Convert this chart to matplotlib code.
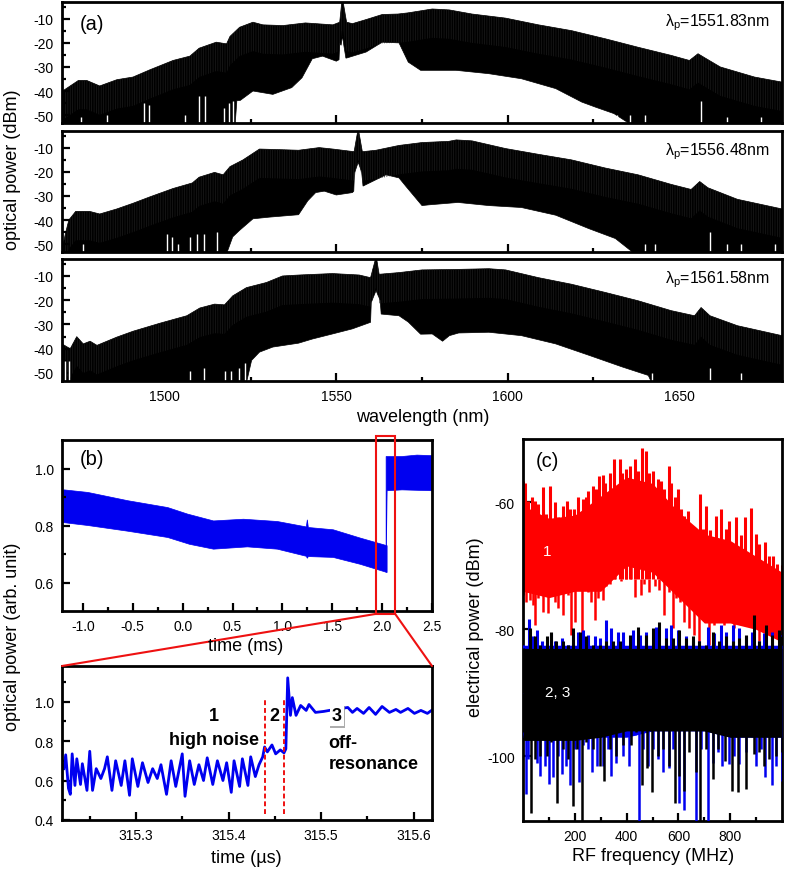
import matplotlib
matplotlib.use('Agg')
import matplotlib.pyplot as plt
import numpy as np
from matplotlib.patches import Rectangle, ConnectionPatch
from matplotlib.patheffects import withSimplePatchShadow
from matplotlib.ticker import MultipleLocator, FixedLocator

W, H = 787, 870
plt.rcParams['font.family'] = ['Liberation Sans', 'DejaVu Sans']
plt.rcParams['mathtext.fontset'] = 'custom'
plt.rcParams['mathtext.rm'] = 'Liberation Sans'
plt.rcParams['mathtext.it'] = 'Liberation Sans'
plt.rcParams['axes.unicode_minus'] = False
plt.rcParams['hatch.linewidth'] = 0.5

# panel (a): envelope of the comb, top trace
a1_up_x = [1470, 1470.5, 1474.8, 1477.2, 1481, 1486, 1490.7, 1495.6, 1502.4, 1507.3, 1510, 1515, 1518, 1519, 1521.8,
           1525.7, 1528.6, 1534.4, 1541, 1549, 1551, 1551.6, 1551.8, 1552, 1553, 1554.7, 1558.7, 1563.4, 1568, 1571,
           1578, 1583, 1589.6, 1599.4, 1609, 1618.6, 1628.5, 1638, 1647.7, 1653, 1655.5, 1657.6, 1662, 1672, 1680]
a1_up_y = [-42, -39.7, -35.6, -35.6, -37.9, -35.3, -34.2, -31.2, -27.3, -25.5, -22.2, -19.7, -20.4, -17.3, -13.5,
           -11.4, -12.5, -12.8, -11.7, -12.5, -11.4, -3, -3, -3, -11.4, -12, -10.3, -8.2, -8, -7.5,
           -5.9, -6.3, -8, -9.7, -12.5, -14.9, -18.3, -21.8, -25.2, -27.3, -24.5, -26.3, -30, -34.2, -36.3]
a1_lo_x = [1470, 1520.5, 1521, 1522, 1525.7, 1531.5, 1537, 1540, 1543, 1546, 1550, 1550.8, 1551, 1551.4, 1551.8,
           1552.2, 1552.8, 1553, 1558.7, 1563.4, 1568.3, 1571, 1574.6, 1584.9, 1594.5, 1604, 1614, 1621.6, 1625.6,
           1631, 1636, 1680]
a1_lo_y = [-54, -54, -44, -43.9, -40, -41.4, -38.6, -34.5, -26.6, -25.5, -27.6, -27, -20, -21, -17,
           -21, -26.3, -26.3, -23.8, -19.7, -20, -28, -31.4, -31.4, -32.8, -34.9, -39, -44.6, -46.7,
           -49.4, -54, -54]
a1_slit_x = [1475.6, 1483.2, 1494, 1495.4, 1506, 1509.9, 1511.7, 1517.3, 1518.6, 1520, 1632, 1635.7, 1640, 1656.4, 1664, 1673.8]
a1_slit_y = [-51, -50, -45, -46, -50, -42, -42, -47, -45, -44, -50, -50, -50, -44, -51, -51]

# panel (a): middle trace
a2_up_x = [1470, 1471, 1472, 1474, 1478, 1481, 1486, 1490.8, 1495.6, 1502.4, 1508, 1510, 1514.5, 1517, 1519, 1522.8,
           1527.6, 1532.4, 1539, 1545, 1549, 1555.2, 1556.2, 1556.4, 1556.6, 1557.6, 1561.6, 1568.3, 1575, 1582.8,
           1585, 1589.6, 1599.4, 1609, 1618.6, 1628.5, 1638, 1647.7, 1653.5, 1656, 1658.4, 1667, 1680]
a2_up_y = [-52.4, -45.6, -40, -36.4, -36.4, -37.5, -35.4, -33, -30.4, -26.9, -24.6, -22.2, -20.2, -21.2, -17.8, -15,
           -10.5, -10.7, -11, -9.9, -10.5, -11.6, -3.5, -3, -3.5, -11.6, -11, -9, -7.8, -7.3,
           -6.7, -7.1, -10.3, -12.7, -15, -18.4, -21.2, -25.2, -27.3, -24, -26.6, -31.4, -35.4]
a2_lo_x = [1470, 1518, 1519.8, 1521.8, 1525.7, 1530.5, 1539, 1541.7, 1544, 1546.5, 1550, 1554.7, 1555.1, 1555.3, 1556.4,
           1557.4, 1557.8, 1564.5, 1568.3, 1570.3, 1575, 1577, 1585.5, 1594.5, 1604, 1614, 1623.7, 1631.4, 1637, 1680]
a2_lo_y = [-54, -54, -47, -44.3, -39.5, -38.8, -37.8, -32, -28.6, -28, -29.6, -28.6, -28, -20.5, -16,
           -20, -25.9, -21.2, -22.5, -26, -34, -33.7, -32.7, -34, -34.8, -38, -43.6, -47.7, -54, -54]
a2_slit_x = [1476.2, 1500.5, 1502.1, 1503.8, 1507.2, 1509.3, 1511.5, 1515.1, 1640, 1643, 1659, 1664, 1668, 1678]
a2_slit_y = [-50, -46, -47, -50, -47, -46, -46, -45, -50, -50, -45, -50, -50, -50]

# panel (a): bottom trace
a3_up_x = [1470, 1472.4, 1474.3, 1476.2, 1478.2, 1480.2, 1486, 1490.7, 1498.5, 1506.4, 1510.2, 1514.5, 1517.4, 1519.8,
           1523.8, 1529.6, 1534.3, 1539.2, 1548.9, 1556.7, 1560, 1561.4, 1561.6, 1561.8, 1562.5, 1568.3, 1575, 1585,
           1594.5, 1599.4, 1609, 1618.6, 1628.5, 1638, 1647.7, 1654.5, 1656.4, 1659, 1667, 1680]
a3_up_y = [-38, -40, -35, -38, -36.9, -38.6, -35.2, -32.8, -29.5, -26.4, -23.2, -21.6, -21.9, -18.2,
           -14.8, -12.7, -10, -9.6, -9, -9.6, -10.7, -3.2, -3, -3.2, -9.3, -8.6, -7.5, -7.3,
           -7, -7.5, -10.7, -13.4, -16.8, -20.2, -24.3, -26.4, -23, -26.4, -30.5, -34.6]
a3_lo_x = [1470, 1523.8, 1525.3, 1527.6, 1531.5, 1539, 1543, 1548.9, 1554.7, 1560, 1560.2, 1561.6, 1562.8, 1563.1, 1568.3,
           1571, 1574.6, 1578, 1581, 1583, 1585.7, 1594.5, 1604, 1614, 1623.7, 1633.4, 1641, 1642, 1680]
a3_lo_y = [-54, -54, -44.8, -41.4, -39.3, -37.7, -36, -33.9, -31.8, -29.1, -20.9, -16, -20, -25.7, -26.4,
           -29, -34, -33.9, -36.9, -34.6, -33.5, -33.2, -34.6, -38, -42.7, -47.5, -51, -54, -54]
a3_slit_x = [1471, 1472, 1507.2, 1511.5, 1517.4, 1519.4, 1521.6, 1523.5, 1642, 1659, 1668]
a3_slit_y = [-45, -45, -49, -48, -49, -49, -48, -46, -50, -48, -50]

pump_labels = ['1551.83', '1556.48', '1561.58']

# panel (b): slow trace before and after the step
b_up_x = [-1.21, -1.19, -0.95, -0.55, -0.15, 0.05, 0.31, 0.61, 0.95, 1.24, 1.25, 1.26, 1.51, 1.78, 2.05]
b_up_y = [0.92, 0.925, 0.916, 0.887, 0.863, 0.84, 0.816, 0.822, 0.814, 0.795, 0.82, 0.793, 0.785, 0.756, 0.729]
b_lo_x = [-1.21, -1.19, -0.95, -0.55, -0.15, 0.07, 0.31, 0.65, 0.95, 1.24, 1.25, 1.26, 1.51, 1.78, 2.05]
b_lo_y = [0.81, 0.81, 0.8, 0.78, 0.758, 0.734, 0.717, 0.725, 0.717, 0.692, 0.685, 0.691, 0.688, 0.664, 0.635]
b2_up_x = [2.04, 2.2, 2.35, 2.5]
b2_up_y = [1.042, 1.042, 1.047, 1.045]
b2_lo_x = [2.04, 2.05, 2.2, 2.5]
b2_lo_y = [0.635, 0.922, 0.925, 0.922]

# zoomed time trace
zoom_t = [315.222, 315.224, 315.227, 315.229, 315.231, 315.234, 315.236, 315.240, 315.242, 315.247, 315.250, 315.253,
          315.257, 315.262, 315.266, 315.269, 315.274, 315.278, 315.284, 315.288, 315.293, 315.296, 315.302, 315.307,
          315.313, 315.318, 315.323, 315.327, 315.333, 315.338, 315.343, 315.350, 315.353, 315.358, 315.363, 315.368,
          315.373, 315.377, 315.383, 315.388, 315.394, 315.398, 315.403, 315.406, 315.412, 315.415, 315.421, 315.424,
          315.429, 315.433, 315.437, 315.439, 315.442, 315.447, 315.451, 315.456, 315.460, 315.462, 315.464, 315.467,
          315.469, 315.473, 315.478, 315.484, 315.487, 315.494, 315.503, 315.515, 315.529, 315.534, 315.539, 315.546,
          315.552, 315.559, 315.566, 315.574, 315.581, 315.586, 315.594, 315.601, 315.608, 315.615, 315.621]
zoom_v = [0.66, 0.73, 0.56, 0.53, 0.735, 0.575, 0.71, 0.58, 0.685, 0.55, 0.748, 0.55,
          0.66, 0.61, 0.66, 0.72, 0.55, 0.70, 0.575, 0.70, 0.525, 0.71, 0.57, 0.69,
          0.59, 0.66, 0.61, 0.68, 0.53, 0.70, 0.57, 0.735, 0.52, 0.70, 0.58, 0.68,
          0.60, 0.715, 0.58, 0.70, 0.60, 0.69, 0.54, 0.70, 0.57, 0.71, 0.575, 0.72,
          0.62, 0.68, 0.72, 0.77, 0.745, 0.78, 0.735, 0.755, 0.74, 0.76, 1.12, 0.93,
          1.02, 0.93, 0.98, 0.955, 0.985, 0.945, 0.95, 0.96, 0.97, 0.945, 0.965, 0.94,
          0.97, 0.935, 0.975, 0.945, 0.96, 0.945, 0.965, 0.94, 0.955, 0.94, 0.96]
zoom_marks = [315.439, 315.460]

# panel (c): red, blue and black RF spectra, tips of the spikes
red_up_f = [1, 8, 21, 33, 46, 59, 76, 88, 106, 123, 136, 155, 168, 183, 197, 213, 232, 245, 251, 270, 283, 294, 309, 318,
            335, 350, 373, 383, 399, 412, 431, 444, 459, 473, 488, 501, 520, 533, 546, 563, 572, 585, 597, 610, 623, 636,
            655, 668, 683, 696, 706, 722, 745, 764, 783, 796, 822, 841, 856, 879, 899, 912, 935, 950, 967, 982, 999]
red_up_p = [-56.6, -56.9, -59.7, -59.2, -59.7, -60.3, -57.6, -61.8, -57.4, -60, -62.3, -60.5, -59.7, -61, -61, -59.2,
            -59.5, -59.2, -58.2, -57.4, -57.9, -55.8, -55.6, -56.9, -55.3, -53.2, -53.2, -55.3, -54.8, -54.3, -53.2, -55,
            -51.4, -51.9, -55.3, -55, -56.3, -56.6, -57.9, -54.3, -56.9, -59.2, -57.9, -61, -62.2, -61.3, -64.2, -64.2,
            -58.7, -64.2, -60.5, -64.4, -62.1, -61, -64.2, -62.9, -62.3, -65.2, -62.3, -60.8, -65, -66.5, -66.3, -68.4,
            -68.4, -69.7, -69.9]
red_lo_f = [1, 12, 27, 40, 46, 59, 78, 97, 110, 123, 136, 155, 174, 187, 200, 213, 226, 238, 251, 264, 277, 290, 309, 322,
            335, 354, 379, 399, 418, 431, 444, 456, 469, 488, 508, 527, 546, 565, 578, 591, 606, 623, 642, 662, 681, 706,
            719, 738, 758, 777, 796, 815, 835, 854, 873, 892, 912, 937, 963, 999]
red_lo_p = [-74.6, -75.7, -75.4, -76.2, -79.3, -75.1, -77.2, -77.4, -70.4, -75.7, -76.7, -77.8, -74.6, -80.9, -78.8, -72,
            -81.9, -70.4, -74.1, -75.7, -78.5, -75.1, -75.4, -73.1, -72.8, -71, -72.3, -71.5, -69.7, -74.9, -72, -74.6,
            -72.8, -74.1, -73.1, -73.8, -77.8, -74.1, -79.8, -75.1, -75.7, -78.8, -79.8, -80.9, -82.5, -73.1, -82.5,
            -79.3, -78.3, -79.3, -78.3, -79.8, -76.2, -78.8, -77.8, -79.8, -81.9, -81.9, -81.9, -82.9]
blue_up_f = [1, 24, 40, 55, 72, 88, 110, 123, 149, 174, 194, 213, 232, 251, 277, 296, 319, 341, 367, 386, 424, 450, 476,
             514, 553, 572, 597, 629, 655, 681, 713, 738, 764, 783, 809, 835, 860, 886, 912, 931, 963, 999]
blue_up_p = [-82.5, -78.3, -81.1, -80.1, -81.9, -83, -80.6, -81.9, -81.4, -82.5, -80.9, -80.4, -80.1, -80.9, -81.1, -81.4,
             -78.5, -79.8, -80.4, -80.4, -80.1, -80.9, -80.4, -79.6, -79.8, -79.3, -80.1, -81.1, -81.9, -81.9, -79.6,
             -80.6, -79.3, -80.4, -79.3, -79.8, -81.1, -80.4, -81.9, -80.6, -80.4, -80.9]
blue_lo_f = [1, 12, 21, 53, 65, 85, 101, 117, 136, 149, 165, 181, 200, 217, 232, 251, 268, 286, 309, 328, 341, 360, 386,
             409, 431, 446, 463, 482, 501, 520, 540, 563, 581, 601, 623, 642, 668, 687, 713, 732, 751, 770, 796, 815, 835,
             860, 886, 899, 918, 935, 960, 976, 999]
blue_lo_p = [-96.7, -106, -100.4, -101, -103.1, -101.5, -104.4, -103.3, -99.9, -102.8, -101.5, -104.6, -98.8, -104.1, -98.3,
             -98.8, -102.5, -101.5, -101.5, -98.8, -103.1, -101, -99.9, -101.5, -96.7, -110.2, -98.8, -101.5, -98.8,
             -100.4, -102.5, -101.8, -98.8, -107.3, -108.4, -94.6, -110.2, -98.8, -110.2, -101, -99.4, -101.5, -101.2,
             -99.9, -101.2, -99.4, -97, -101.5, -98.8, -103.3, -104.6, -101.5, -103.9]
black_up_f = [1, 27, 46, 65, 91, 110, 129, 155, 174, 194, 219, 245, 270, 296, 322, 347, 373, 412, 444, 476, 501, 527, 553,
              578, 604, 629, 655, 681, 706, 732, 758, 783, 809, 835, 860, 892, 912, 937, 963, 988, 999]
black_up_p = [-83, -79.8, -81.1, -82.5, -81.1, -80.4, -81.9, -81.9, -82.5, -79.8, -80.4, -81.1, -82.5, -82.5, -81.9, -81.9,
              -81.9, -80.9, -79.6, -80.9, -79.8, -78.8, -81.4, -81.4, -80.1, -81.4, -81.1, -81.9, -82.5, -80.4, -81.9,
              -81.1, -81.9, -81.4, -80.9, -77.7, -81.9, -79.3, -80.9, -80.1, -81]
black_lo_f = [1, 29, 46, 65, 91, 110, 133, 155, 174, 194, 209, 228, 245, 270, 296, 313, 335, 360, 386, 418, 437, 460, 478,
              499, 520, 540, 565, 585, 604, 623, 642, 668, 685, 706, 732, 751, 781, 806, 832, 860, 892, 912, 931, 950, 976, 999]
black_lo_p = [-96.2, -108.9, -100.4, -99.9, -99.9, -97.8, -107.3, -98.8, -100.4, -107.8, -98.8, -110.2, -97.8, -98.8, -101.5,
              -103.9, -98.8, -99.9, -98.3, -98.3, -96.2, -104.6, -101.8, -105.7, -99.9, -98.8, -101.5, -107.3, -103.1,
              -105.4, -99.4, -102.5, -110.2, -98.8, -103.6, -98.8, -100.7, -105.4, -105.7, -105.2, -99.6, -99.4, -101.5,
              -100.4, -99.9, -99.4]

# solid body of the spectra, under the spikes
core_f = [0, 100, 200, 300, 400, 500, 600, 700, 800, 900, 1000]
red_core_top = [-60.5, -62.5, -62, -59, -56, -57, -61.5, -65, -66, -68.5, -71]
red_core_low = [-74, -75, -74, -74, -70, -71, -75, -79, -79, -80, -82]
blue_core_top = [-82.5, -82.5, -82.5, -82.5, -82.5, -82.5, -82.5, -82.5, -82.5, -82.5, -82.5]
blue_core_low = [-97, -97, -97, -97, -97, -96, -96, -96, -97, -97, -97]
black_core_top = [-83, -83, -83, -83, -83, -83, -83, -83, -83, -83, -83]
black_core_low = [-97.5, -97.5, -97.5, -97, -96, -96, -96, -96, -97, -97, -97]


def make_axes(fig, left, top, right, bottom):
    ax = fig.add_axes([left / W, 1 - bottom / H, (right - left) / W, (bottom - top) / H])
    for s in ax.spines.values():
        s.set_linewidth(2)
    ax.tick_params(which='major', direction='in', length=6, width=1.6, top=False, right=False, labelsize=10, pad=6)
    ax.tick_params(which='minor', direction='in', length=3, width=1.6, top=False, right=False)
    return ax


def band(ax, x_up, y_up, x_lo, y_lo, color, **kw):
    ax.fill(list(x_up) + list(x_lo)[::-1], list(y_up) + list(y_lo)[::-1], color=color, linewidth=0.5, **kw)


def spectrum(ax, color, up_f, up_p, lo_f, lo_p, core_top, core_low, anchor, z):
    ax.fill_between(core_f, core_low, core_top, color=color, linewidth=0, zorder=z)
    ax.vlines(up_f, anchor, up_p, color=color, linewidth=2.2, zorder=z)
    ax.vlines(lo_f, anchor, lo_p, color=color, linewidth=1.8, zorder=z)


fig = plt.figure(figsize=(W / 100, H / 100), dpi=100)

# (a)
a_traces = [
    (a1_up_x, a1_up_y, a1_lo_x, a1_lo_y, a1_slit_x, a1_slit_y),
    (a2_up_x, a2_up_y, a2_lo_x, a2_lo_y, a2_slit_x, a2_slit_y),
    (a3_up_x, a3_up_y, a3_lo_x, a3_lo_y, a3_slit_x, a3_slit_y),
]
a_frames = [(3, 124), (132, 253), (260, 382)]
for i, (frame, trace) in enumerate(zip(a_frames, a_traces)):
    ax = make_axes(fig, 62, frame[0], 782, frame[1])
    band(ax, trace[0], trace[1], trace[2], trace[3], 'black')
    # faint comb lines near the top edge of the envelope
    top_edge = np.array(trace[1])
    ax.fill_between(trace[0], top_edge - 12, top_edge, facecolor='none', edgecolor='#1c1c1c', hatch='|||||||', linewidth=0)
    ax.vlines(trace[4], -54, trace[5], color='white', linewidth=1)
    ax.set_xlim(1470, 1680)
    ax.set_ylim(-53.3, -3)
    ax.xaxis.set_major_locator(MultipleLocator(50))
    ax.xaxis.set_minor_locator(MultipleLocator(25))
    ax.yaxis.set_major_locator(FixedLocator([-50, -40, -30, -20, -10]))
    ax.yaxis.set_minor_locator(FixedLocator([-45, -35, -25, -15, -5]))
    if i < 2:
        ax.tick_params(axis='x', labelbottom=False)
    ax.text(0.983, 0.84, r'$\lambda_{\mathrm{p}}$=' + pump_labels[i] + 'nm', transform=ax.transAxes,
            ha='right', va='center', fontsize=11.5)
    if i == 0:
        ax.text(0.024, 0.82, '(a)', transform=ax.transAxes, ha='left', va='center', fontsize=14.5)

# (b)
ax_b = make_axes(fig, 62, 441, 432, 612)
band(ax_b, b_up_x, b_up_y, b_lo_x, b_lo_y, '#0000f0')
band(ax_b, b2_up_x, b2_up_y, b2_lo_x, b2_lo_y, '#0000f0')
ax_b.set_xlim(-1.21, 2.5)
ax_b.set_ylim(0.5, 1.1)
ax_b.xaxis.set_major_locator(MultipleLocator(0.5))
ax_b.xaxis.set_minor_locator(MultipleLocator(0.25))
ax_b.yaxis.set_major_locator(FixedLocator([0.6, 0.8, 1.0]))
ax_b.yaxis.set_minor_locator(FixedLocator([0.7, 0.9]))
ax_b.text(0.08, 0.89, '(b)', transform=ax_b.transAxes, ha='center', va='center', fontsize=14.5)
ax_b.add_patch(Rectangle((1.94, 0.49), 0.19, 0.625, fill=False, edgecolor='#ee1111', linewidth=1.5, clip_on=False, zorder=5))

# zoomed trace under (b)
ax_z = make_axes(fig, 62, 667, 432, 821)
ax_z.plot(zoom_t, zoom_v, color='#0000f0', linewidth=2)
ax_z.vlines(zoom_marks, 0.43, 1.02, color='#ee1111', linewidth=1.4, linestyles=(0, (2.5, 1.5)))
ax_z.set_xlim(315.22, 315.62)
ax_z.set_ylim(0.4, 1.18)
ax_z.xaxis.set_major_locator(MultipleLocator(0.1))
ax_z.xaxis.set_minor_locator(MultipleLocator(0.05))
ax_z.yaxis.set_major_locator(FixedLocator([0.4, 0.6, 0.8, 1.0]))
ax_z.yaxis.set_minor_locator(FixedLocator([0.5, 0.7, 0.9, 1.1]))
ax_z.xaxis.set_major_formatter(lambda v, pos: f'{v:.1f}')
ax_z.text(315.384, 0.93, '1', ha='center', va='center', fontsize=13, fontweight='bold')
ax_z.text(315.384, 0.806, 'high noise', ha='center', va='center', fontsize=13, fontweight='bold')
ax_z.text(315.45, 0.93, '2', ha='center', va='center', fontsize=13, fontweight='bold')
label3 = ax_z.text(315.517, 0.93, '3', ha='center', va='center', fontsize=13, fontweight='bold',
                   bbox=dict(facecolor='white', edgecolor='none', pad=1.5))
label3.get_bbox_patch().set_path_effects([withSimplePatchShadow(offset=(0.5, -1.2), shadow_rgbFace='#999999', alpha=0.8)])
ax_z.text(315.508, 0.795, 'off-', ha='left', va='center', fontsize=13, fontweight='bold')
ax_z.text(315.508, 0.687, 'resonance', ha='left', va='center', fontsize=13, fontweight='bold')

for xy_b, xy_z in [((1.94, 0.49), (0, 1)), ((2.13, 0.49), (1, 1))]:
    fig.add_artist(ConnectionPatch(xy_b, xy_z, coordsA=ax_b.transData, coordsB=ax_z.transAxes,
                                   color='#ee1111', linewidth=1.5))

# (c)
ax_c = make_axes(fig, 523, 440, 782, 822)
ax_c.set_axisbelow(True)
spectrum(ax_c, '#ff0000', red_up_f, red_up_p, red_lo_f, red_lo_p, red_core_top, red_core_low, -72, 2)
spectrum(ax_c, '#0000f0', blue_up_f, blue_up_p, blue_lo_f, blue_lo_p, blue_core_top, blue_core_low, -90, 3)
spectrum(ax_c, 'black', black_up_f, black_up_p, black_lo_f, black_lo_p, black_core_top, black_core_low, -90, 4)
ax_c.set_xlim(0, 1000)
ax_c.set_ylim(-110.2, -50)
ax_c.xaxis.set_major_locator(FixedLocator([200, 400, 600, 800]))
ax_c.xaxis.set_minor_locator(FixedLocator([100, 300, 500, 700, 900]))
ax_c.yaxis.set_major_locator(FixedLocator([-100, -80, -60]))
ax_c.yaxis.set_minor_locator(FixedLocator([-90, -70]))
ax_c.text(0.05, 0.945, '(c)', transform=ax_c.transAxes, ha='left', va='center', fontsize=14.5)
ax_c.text(92, -67.6, '1', color='white', ha='center', va='center', fontsize=11, zorder=6)
ax_c.text(135, -89.8, '2, 3', color='white', ha='center', va='center', fontsize=11, zorder=6)

# axis titles placed by hand, as they sit apart from the ticks
fig.text(13 / W, 1 - 170 / H, 'optical power (dBm)', rotation=90, ha='center', va='center', fontsize=13)
fig.text(13 / W, 1 - 637 / H, 'optical power (arb. unit)', rotation=90, ha='center', va='center', fontsize=13)
fig.text(476 / W, 1 - 627 / H, 'electrical power (dBm)', rotation=90, ha='center', va='center', fontsize=13)
fig.text(423 / W, 1 - 418 / H, 'wavelength (nm)', ha='center', va='center', fontsize=13)
fig.text(246 / W, 1 - 647 / H, 'time (ms)', ha='center', va='center', fontsize=13)
fig.text(246 / W, 1 - 859 / H, 'time (\u00b5s)', ha='center', va='center', fontsize=13)
fig.text(653 / W, 1 - 857 / H, 'RF frequency (MHz)', ha='center', va='center', fontsize=13)

plt.savefig('out.png', dpi=100)
